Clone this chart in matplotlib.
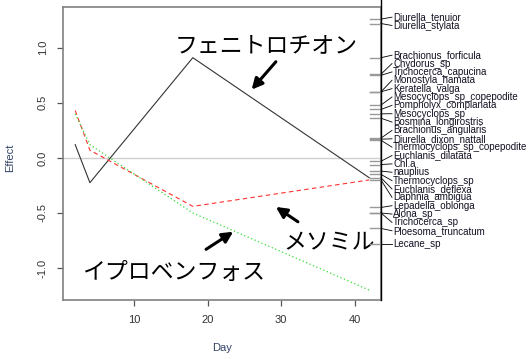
import numpy as np
import matplotlib
matplotlib.use('Agg')
import matplotlib.pyplot as plt
import matplotlib.transforms as mtransforms

plt.rcParams['font.family'] = ['Liberation Sans', 'DejaVu Sans']

# 농약별 효과 곡선
days = [2, 4, 18, 42]
fenitrothion = [0.12, -0.225, 0.91, -0.18]
mesomil = [0.43, 0.07, -0.44, -0.20]
iprobenfos = [0.40, 0.12, -0.50, -1.20]

# 오른쪽 축의 생물종별 효과값
species = ['Diurella_tenuior', 'Diurella_stylata', 'Brachionus_forficula', 'Chydorus_sp',
           'Trichocerca_capucina', 'Keratella_valga', 'Monostyla_hamata',
           'Mesocyclops_sp_copepodite', 'Pompholyx_complanata', 'Mesocyclops_sp',
           'Bosmina_longirostris', 'Brachionus_angularis', 'Diurella_dixon_nattall',
           'Thermocyclops_sp_copepodite', 'Euchlanis_dilatata', 'Chl.a', 'nauplius',
           'Thermocyclops_sp', 'Euchlanis_deflexa', 'Daphnia_ambigua', 'Lepadella_oblonga',
           'Trichocerca_sp', 'Alona_sp', 'Ploesoma_truncatum', 'Lecane_sp']
species_effect = [1.26, 1.22, 0.91, 0.76, 0.75, 0.60, 0.60, 0.48, 0.44, 0.40, 0.36,
                  0.18, 0.17, 0.16, -0.03, -0.06, -0.12, -0.15, -0.18, -0.20, -0.45,
                  -0.50, -0.50, -0.64, -0.78]

fig = plt.figure(figsize=(5.29, 3.59), dpi=100)
ax = fig.add_axes([63 / 529, 59 / 359, 318 / 529, 293 / 359])

ax.axhline(0, color='#d0d0d0', lw=1, zorder=1)
ax.plot(days, fenitrothion, color='#333333', lw=0.8, zorder=3)
ax.plot(days, mesomil, color='#ff3030', lw=0.8, dashes=(4, 3), zorder=3)
ax.plot(days, iprobenfos, color='#33dd33', lw=0.9, dashes=(1, 2), zorder=3)

ax.set_xlim(0.34, 43.6)
ax.set_ylim(-1.29, 1.37)
ax.set_xticks([10, 20, 30, 40])
ax.set_yticks([-1.0, -0.5, 0.0, 0.5, 1.0])
ax.set_yticklabels(['-1.0', '-0.5', '0.0', '0.5', '1.0'], rotation=90, va='center')
ax.tick_params(length=4, width=0.9, color='#555555', labelcolor='#333333', labelsize=8)
ax.tick_params(axis='x', pad=7)
ax.tick_params(axis='y', pad=7)
for s in ax.spines.values():
    s.set_color('#808080')
    s.set_linewidth(1.2)

fig.text(10 / 529, 1 - 158 / 359, 'Effect', rotation=90, ha='center', va='center',
         fontsize=8, color='#334466')
fig.text(222 / 529, 1 - 348 / 359, 'Day', ha='center', va='center',
         fontsize=8, color='#334466')

# 라벨 겹침 방지: 가까운 값끼리 묶어서 평균 주위에 등간격 배치
def spread(vals, gap):
    vals = np.asarray(vals, dtype=float)
    order = np.argsort(vals)[::-1]
    sv = vals[order]
    groups = [[v] for v in sv]
    def layout(g):
        c = np.mean(g)
        n = len(g)
        return c + gap * ((n - 1) / 2 - np.arange(n))
    changed = True
    while changed:
        changed = False
        for i in range(len(groups) - 1):
            lo = layout(groups[i])[-1]
            hi = layout(groups[i + 1])[0]
            if lo - hi < gap - 1e-9:
                groups[i] = groups[i] + groups[i + 1]
                del groups[i + 1]
                changed = True
                break
    pos = np.concatenate([layout(g) for g in groups])
    out = np.empty_like(pos)
    out[order] = pos
    return out

label_y = spread(species_effect, 8.35 / 110)

trans = mtransforms.blended_transform_factory(ax.transAxes, ax.transData)
w = 318
ax.plot([1, 1], [0, 1 + 7 / 293], transform=ax.transAxes, color='black', lw=1,
        clip_on=False, zorder=5)
for name, v, ly in zip(species, species_effect, label_y):
    ax.plot([1 - 11 / w, 1], [v, v], transform=trans, color='#999999', lw=1,
            clip_on=False, zorder=4)
    ax.plot([1, 1 + 11 / w], [v, ly], transform=trans, color='black', lw=0.6,
            clip_on=False, zorder=4)
    ax.text(1 + 12 / w, ly, name, transform=trans, ha='left', va='center',
            fontsize=7, color='#111122', clip_on=False)

# 농약 이름과 화살표
jp = ['Noto Sans CJK JP', 'DejaVu Sans']
arrow = dict(arrowstyle='-|>', lw=2.2, mutation_scale=16, color='black',
             shrinkA=0, shrinkB=0)
ax.text(27.96, 1.018, 'フェニトロチオン', family=jp, fontsize=16.5, ha='center', va='center')
ax.annotate('', xy=(26.0, 0.62), xytext=(29.3, 0.873), arrowprops=arrow)
ax.text(36.5, -0.773, 'メソミル', family=jp, fontsize=16.5, ha='center', va='center')
ax.annotate('', xy=(29.3, -0.445), xytext=(32.3, -0.58), arrowprops=arrow)
ax.text(15.44, -1.036, 'イプロベンフォス', family=jp, fontsize=16.5, ha='center', va='center')
ax.annotate('', xy=(23.5, -0.67), xytext=(19.8, -0.83), arrowprops=arrow)

fig.savefig('out.png', dpi=100)
